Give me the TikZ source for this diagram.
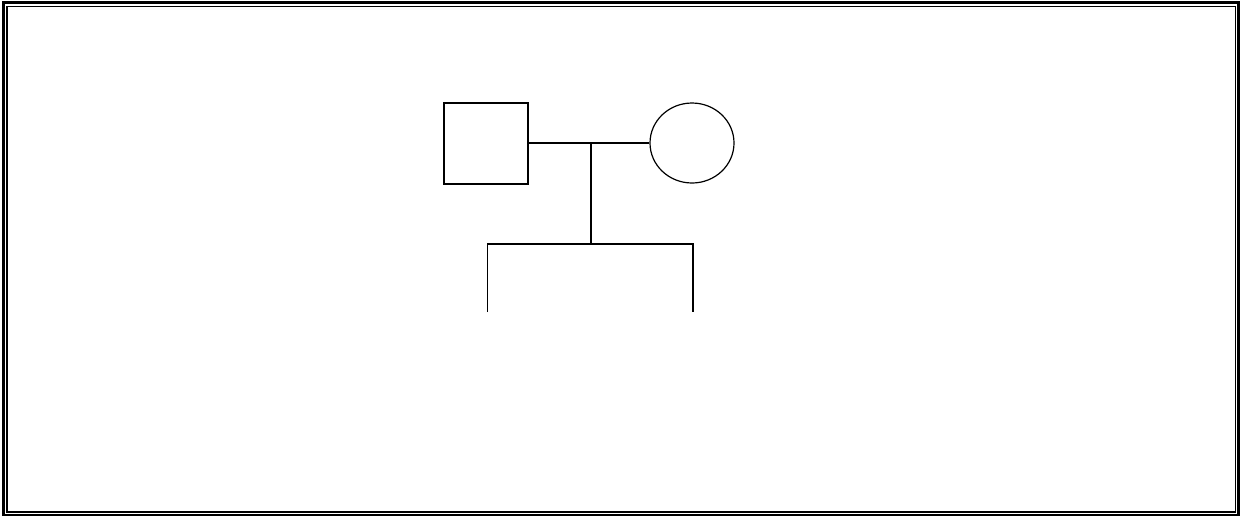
\documentclass[tikz,border=0pt]{standalone}
\usetikzlibrary{shapes.geometric}

\begin{document}
\begin{tikzpicture}[
        x=0.5pt, y=-0.5pt,
        line width=0.6pt,
        male/.style={draw, rectangle, minimum width=42pt, minimum height=40.5pt, inner sep=0pt},
        female/.style={draw, ellipse, minimum width=42pt, minimum height=40pt, inner sep=0pt},
        kin/.style={line width=0.6pt}
    ]

    % Rahmen
    \useasboundingbox (0,0) rectangle (1240,515);
    \draw[line width=1.5pt] (3.5,2.5) rectangle (1238.5,515);
    \draw[line width=0.6pt] (7,6.5) rectangle (1235.5,512);

    % Eltern
    \node[male] (father) at (486,143.5) {};
    \node[female] (mother) at (692,143) {};

    % Partnerlinie und Abstammung
    \coordinate (union) at (591,143);
    \coordinate (sibs) at (591,244);
    \coordinate (leftkid) at (487.5,312);
    \coordinate (rightkid) at (693,312);
    \draw[kin] (father.east |- union) -- (union) -- (mother.west |- union);
    \draw[kin] (union) -- (sibs);

    % Geschwisterlinie
    \draw[kin] (leftkid) -- (leftkid |- sibs) -- (rightkid |- sibs) -- (rightkid);

\end{tikzpicture}
\end{document}
